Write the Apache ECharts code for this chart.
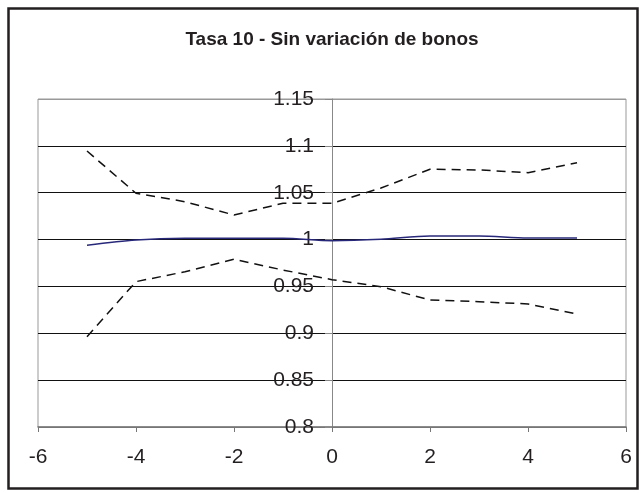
<!DOCTYPE html>
<html>
<head>
<meta charset="utf-8">
<script src="https://cdn.jsdelivr.net/npm/echarts@6/dist/echarts.min.js"></script>
<style>html,body{margin:0;padding:0;background:#fff;}#c{width:642px;height:493px;}</style>
</head>
<body>
<div id="c"></div>
<script>
var xValues = [-5, -4, -3, -2, -1, 0, 1, 2, 3, 4, 5];
var centralValues = [0.994, 0.9995, 1.0013, 1.0013, 1.0013, 0.9988, 1.0003, 1.0038, 1.0038, 1.0017, 1.0017];
var upperValues = [1.0945, 1.0494, 1.0404, 1.0262, 1.0387, 1.0387, 1.0550, 1.0750, 1.0743, 1.0714, 1.0820];
var lowerValues = [0.8964, 0.9551, 0.9657, 0.9790, 0.9675, 0.9572, 0.9497, 0.9355, 0.9337, 0.9313, 0.9206];
var titleText = 'Tasa 10 - Sin variación de bonos';

function pairs(vals) { return xValues.map(function (x, i) { return [x, vals[i]]; }); }

var gridLeft = 38, gridRight = 16, W = 642;
var plotW = W - gridLeft - gridRight;
var xMin = -6, xMax = 6;
// shift the y axis (line, ticks, labels) so it sits at x = 0
var yAxisOffset = -plotW * (0 - xMin) / (xMax - xMin);

var chart = echarts.init(document.getElementById('c'), null, { renderer: 'canvas' });
var font = 'Liberation Sans, Arial, sans-serif';
chart.setOption({
  backgroundColor: '#fff',
  animation: false,
  title: {
    text: titleText, left: 327, textAlign: 'center', top: 25,
    textStyle: { fontFamily: font, fontSize: 19, fontWeight: 'bold', color: '#231f20' }
  },
  graphic: [{
    type: 'rect', shape: { x: 8.5, y: 8.5, width: 629, height: 480 },
    style: { fill: null, stroke: '#231f20', lineWidth: 2.5 }, silent: true, z: 100
  }],
  grid: { left: gridLeft, right: gridRight, top: 99, bottom: 66, show: true, borderColor: '#999', borderWidth: 1, backgroundColor: 'transparent', containLabel: false, outerBoundsMode: 'none' },
  xAxis: {
    type: 'value', min: xMin, max: xMax, interval: 2,
    axisLine: { show: true, onZero: false, lineStyle: { color: '#777', width: 1.5 } },
    axisTick: { show: true, length: 5, lineStyle: { color: '#777' } },
    axisLabel: { margin: 20, fontFamily: font, fontSize: 21, color: '#231f20' },
    splitLine: { show: false }
  },
  yAxis: {
    type: 'value', min: 0.8, max: 1.15, interval: 0.05, offset: yAxisOffset,
    axisLine: { show: true, onZero: false, lineStyle: { color: '#888', width: 1 } },
    axisTick: { show: true, length: 7, lineStyle: { color: '#888' } },
    axisLabel: {
      margin: 18, fontFamily: font, fontSize: 21, color: '#231f20',
      formatter: function (v) { return String(parseFloat(v.toFixed(2))); }
    },
    splitLine: { show: true, lineStyle: { color: ['#777', '#111', '#111', '#111', '#111', '#111', '#111', '#999'], width: 1 } }
  },
  series: [
    { type: 'line', data: pairs(upperValues), symbol: 'none', lineStyle: { color: '#111', width: 1.5, type: [9, 6] } },
    { type: 'line', data: pairs(lowerValues), symbol: 'none', lineStyle: { color: '#111', width: 1.5, type: [9, 6] } },
    { type: 'line', data: pairs(centralValues), symbol: 'none', smooth: 0.3, lineStyle: { color: '#28287a', width: 1.5 } }
  ]
});
</script>
</body>
</html>
